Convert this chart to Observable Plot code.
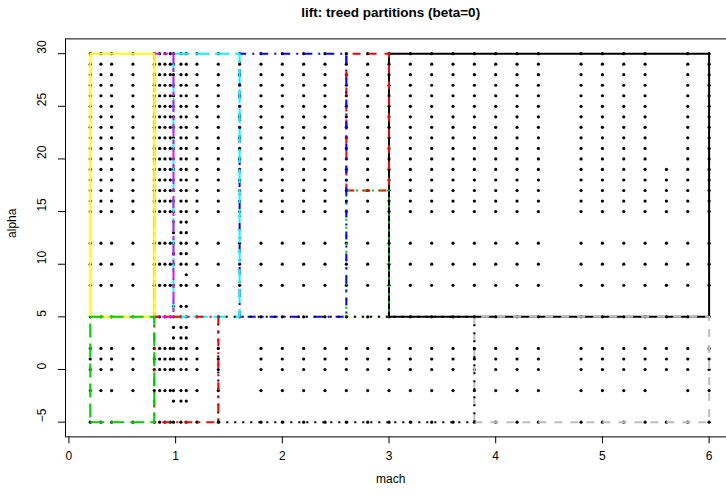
<!DOCTYPE html>
<html><head><meta charset="utf-8">
<script src="https://cdn.jsdelivr.net/npm/d3@7"></script>
<script src="https://cdn.jsdelivr.net/npm/@observablehq/plot@0.6"></script>
<style>body{margin:0;background:#fff}svg{display:block}</style>
</head><body><div id="chart"></div>
<script>
const title = "lift: treed partitions (beta=0)";
const xLabel = "mach";
const yLabel = "alpha";
const xTicks = [0, 1, 2, 3, 4, 5, 6];
const yTicks = [-5, 0, 5, 10, 15, 20, 25, 30];

// design grid (mach columns x alpha rows)
const machGrid = [0.2,0.3,0.4,0.6,0.8,0.85,0.9,0.95,0.98,1.05,1.1,1.2,1.4,1.6,1.8,2.0,2.2,2.4,2.6,2.8,3.0,3.2,3.4,3.6,3.8,4.0,4.2,4.4,4.8,5.0,5.2,5.4,5.6,5.8,6.0];
const alphaGrid = [-5,-2,0,1,2,5,8,10,12,15,16,17,18,19,20,21,22,23,24,25,26,27,28,29,30];
// extra rows near mach 1
const denseMach = [0.98, 1.05, 1.1];
const denseAlpha = [-3, 3, 4, 6, 11, 13, 14];
const extraMach = [1.1];
const extraAlpha = [9];
// grid cells with no run
const missingMach  = [1.6,1.6,1.6,1.6,1.6,5.6,5.6,5.6,5.6,5.6,5.6,5.6,5.6,5.6,5.6,5.6,5.6];
const missingAlpha = [-5,-2,0,1,2,-2,20,21,22,23,24,25,26,27,28,29,30];

// treed partitions
const partX0 = [3.0, 2.6, 2.6, 1.6, 0.98, 0.8, 0.2, 3.8, 1.4, 0.8, 0.2];
const partX1 = [6.0, 3.0, 3.0, 2.6, 1.6, 0.98, 0.8, 6.0, 3.8, 1.4, 0.8];
const partY0 = [5, 17, 5, 5, 5, 5, 5, -5, -5, -5, -5];
const partY1 = [30, 30, 17, 30, 30, 30, 30, 5, 5, 5, 5];
const partColor = ["#000000","#FF0000","#00CD00","#0000FF","#00FFFF","#FF00FF","#FFFF00","#BEBEBE","#000000","#FF0000","#00CD00"];
const partDash = ["none","8,8","2,6","2,6,8,6","14,6","4,4,12,4","none","8,8","2,6","2,6,8,6","14,6"];

const miss = new Set(missingMach.map((m, i) => m + "|" + missingAlpha[i]));
const points = [];
for (const m of machGrid) for (const a of alphaGrid) if (!miss.has(m + "|" + a)) points.push({mach: m, alpha: a});
for (const m of denseMach) for (const a of denseAlpha) points.push({mach: m, alpha: a});
extraMach.forEach((m, i) => points.push({mach: m, alpha: extraAlpha[i]}));

// R-style 4% axis extension
const ext = (arr) => { const [lo, hi] = d3.extent(arr); const p = 0.04 * (hi - lo); return [lo - p, hi + p]; };
const xDom = ext(machGrid);
const yDom = ext(alphaGrid);

const W = 726, H = 496;
const mL = 65, mT = 38.4, mB = 59.6;
const pxPerX = 106.7;
const xRange = [mL, mL + (xDom[1] - xDom[0]) * pxPerX];

const font = "Liberation Sans, Arial, Helvetica, sans-serif";
const xMid = (xDom[0] + xDom[1]) / 2;
const yMid = (yDom[0] + yDom[1]) / 2;

const marks = [];
marks.push(Plot.dot(points, {x: "mach", y: "alpha", r: 1.6, fill: "black", stroke: "none"}));
partX0.forEach((_, i) => {
  const path = [
    {x: partX0[i], y: partY0[i]}, {x: partX1[i], y: partY0[i]},
    {x: partX1[i], y: partY1[i]}, {x: partX0[i], y: partY1[i]},
    {x: partX0[i], y: partY0[i]}
  ];
  marks.push(Plot.line(path, {x: "x", y: "y", stroke: partColor[i], strokeWidth: 2,
    strokeDasharray: partDash[i] === "none" ? null : partDash[i], strokeLinecap: "butt"}));
});
// frame (left, bottom, top)
marks.push(Plot.ruleY([yDom[0], yDom[1]], {x1: xDom[0], x2: xDom[1], stroke: "black", strokeWidth: 1}));
marks.push(Plot.ruleX([xDom[0]], {y1: yDom[0], y2: yDom[1], stroke: "black", strokeWidth: 1}));
// axes
marks.push(Plot.axisX(xTicks, {anchor: "bottom", tickSize: 7, tickPadding: 8, fontSize: 12, label: null, stroke: "black"}));
marks.push(Plot.axisY(yTicks, {anchor: "left", tickSize: 7, tickFormat: () => "", label: null, stroke: "black"}));
marks.push(Plot.text(yTicks, {y: d => d, frameAnchor: "left", rotate: -90, dx: -23, fontSize: 12, text: d => d < 0 ? "\u2212" + Math.abs(d) : String(d)}));
marks.push(Plot.text([xLabel], {x: () => xMid, frameAnchor: "bottom", dx: -9, dy: 46, fontSize: 12, text: d => d}));
marks.push(Plot.text([yLabel], {y: () => yMid, frameAnchor: "left", dx: -53, rotate: -90, fontSize: 12, text: d => d}));
marks.push(Plot.text([title], {x: () => xMid, frameAnchor: "top", dx: -9, dy: -31, fontSize: 13.5, fontWeight: "bold", text: d => d}));

const chart = Plot.plot({
  width: W, height: H,
  marginLeft: mL, marginRight: 0, marginTop: mT, marginBottom: mB,
  style: {fontFamily: font, background: "white", color: "black", overflow: "hidden"},
  x: {domain: xDom, range: xRange},
  y: {domain: yDom},
  marks
});
document.getElementById("chart").append(chart);
</script>
</body></html>
